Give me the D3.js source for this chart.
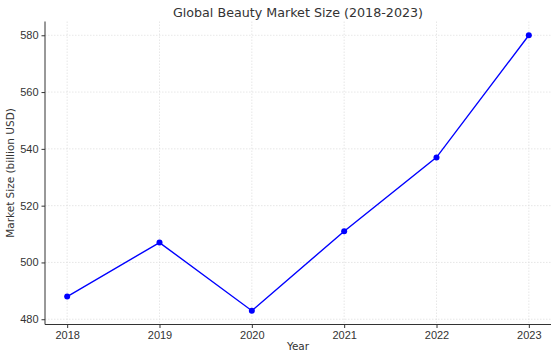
<!DOCTYPE html>
<html>
<head>
<meta charset="utf-8">
<script src="https://cdn.jsdelivr.net/npm/d3@7"></script>
<style>
  body { margin: 0; background: #fff; }
  svg { display: block; font-family: "DejaVu Sans", sans-serif; }
</style>
</head>
<body>
<svg id="chart" width="554" height="355"></svg>
<script>
// Data
const years = [2018, 2019, 2020, 2021, 2022, 2023];
const marketSize = [488, 507, 483, 511, 537, 580];
const yTicks = [480, 500, 520, 540, 560, 580];

const svg = d3.select('#chart');
const margin = { left: 45, right: 3, top: 21.5, bottom: 30.5 };
const width = 554, height = 355;

// Scales (matplotlib-like 5% padding)
const x = d3.scaleLinear()
    .domain([2018 - 0.25 * 0.96, 2023 + 0.25 * 0.96])
    .range([margin.left, width - margin.right]);
const yMin = d3.min(marketSize), yMax = d3.max(marketSize);
const pad = (yMax - yMin) * 0.05;
const y = d3.scaleLinear()
    .domain([yMin - pad, yMax + pad])
    .range([height - margin.bottom, margin.top]);

// Grid
const grid = svg.append('g').attr('class', 'grid');
grid.selectAll('line.gx').data(years).enter().append('line')
    .attr('x1', d => x(d)).attr('x2', d => x(d))
    .attr('y1', margin.top).attr('y2', height - margin.bottom)
    .attr('stroke', '#dcdcdc').attr('stroke-width', 0.7)
    .attr('stroke-dasharray', '1.5,1.5');
grid.selectAll('line.gy').data(yTicks).enter().append('line')
    .attr('x1', margin.left).attr('x2', width - margin.right)
    .attr('y1', d => y(d)).attr('y2', d => y(d))
    .attr('stroke', '#dcdcdc').attr('stroke-width', 0.7)
    .attr('stroke-dasharray', '1.5,1.5');

// Axes
const xAxis = svg.append('g')
    .attr('transform', `translate(0,${height - margin.bottom})`)
    .call(d3.axisBottom(x).tickValues(years).tickFormat(d3.format('d')).tickSize(3.5).tickPadding(3));
const yAxis = svg.append('g')
    .attr('transform', `translate(${margin.left},0)`)
    .call(d3.axisLeft(y).tickValues(yTicks).tickSize(3.5).tickPadding(3));

[xAxis, yAxis].forEach(ax => {
    ax.select('.domain').attr('stroke', '#333').attr('stroke-width', 1);
    ax.selectAll('.tick line').attr('stroke', '#333');
    ax.selectAll('.tick text').attr('fill', '#333').style('font-size', '11px');
});
xAxis.select('.domain').attr('d', `M${margin.left},0H${width - margin.right}`);
yAxis.select('.domain').attr('d', `M0,${margin.top}V${height - margin.bottom}`);

// Line
const line = d3.line()
    .x((d, i) => x(years[i]))
    .y(d => y(d));
svg.append('path')
    .datum(marketSize)
    .attr('d', line)
    .attr('fill', 'none')
    .attr('stroke', '#0000ff')
    .attr('stroke-width', 1.4);
svg.selectAll('circle.pt').data(marketSize).enter().append('circle')
    .attr('cx', (d, i) => x(years[i]))
    .attr('cy', d => y(d))
    .attr('r', 3)
    .attr('fill', '#0000ff');

// Labels
svg.append('text')
    .attr('x', (margin.left + width - margin.right) / 2)
    .attr('y', 17)
    .attr('text-anchor', 'middle')
    .attr('fill', '#333')
    .style('font-size', '12.7px')
    .text('Global Beauty Market Size (2018-2023)');
svg.append('text')
    .attr('x', (margin.left + width - margin.right) / 2)
    .attr('y', 350)
    .attr('text-anchor', 'middle')
    .attr('fill', '#333')
    .style('font-size', '10.5px')
    .text('Year');
svg.append('text')
    .attr('transform', `translate(14,${(margin.top + height - margin.bottom) / 2}) rotate(-90)`)
    .attr('text-anchor', 'middle')
    .attr('fill', '#333')
    .style('font-size', '10.5px')
    .text('Market Size (billion USD)');
</script>
</body>
</html>
